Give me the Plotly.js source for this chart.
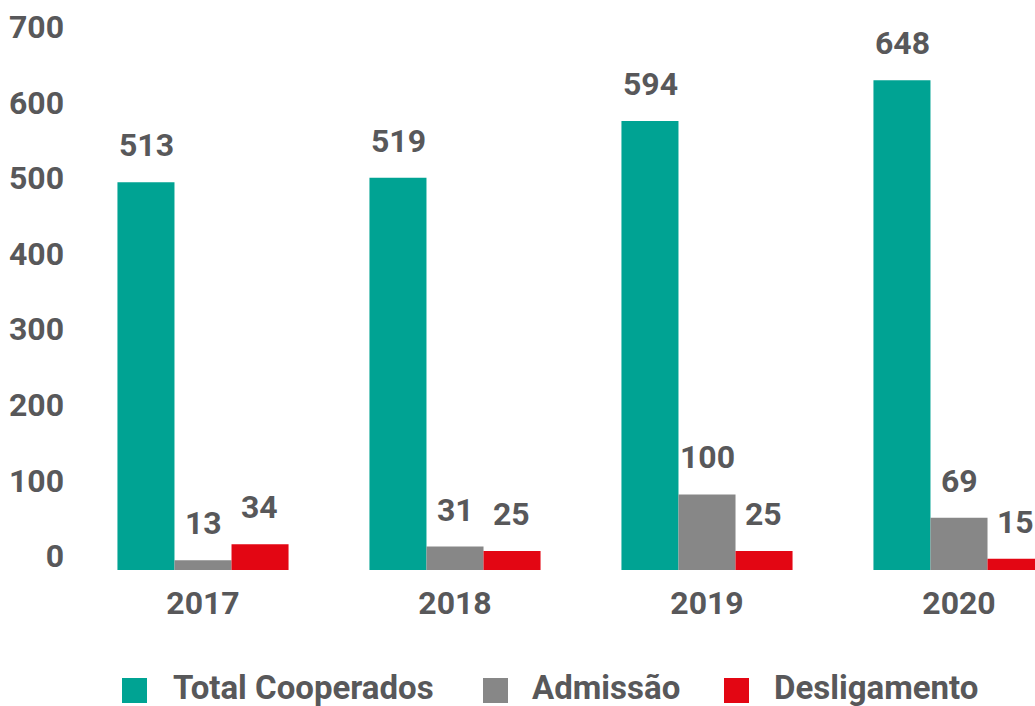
<!DOCTYPE html>
<html>
<head>
<meta charset="utf-8">
<script src="https://cdn.plot.ly/plotly-3.0.1.min.js"></script>
<style>html,body{margin:0;padding:0;background:#fff;overflow:hidden;}#chart{width:1035px;height:706px;}</style>
</head>
<body>
<div id="chart"></div>
<script>
// ---- data ----
const years = ['2017', '2018', '2019', '2020'];
const totalCooperados = [513, 519, 594, 648];
const admissao = [13, 31, 100, 69];
const desligamento = [34, 25, 25, 15];
const seriesNames = ['Total Cooperados', 'Admissão', 'Desligamento'];
const yTickVals = [0, 100, 200, 300, 400, 500, 600, 700];
const yTickText = ['0', '100', '200', '300', '400', '500', '600', '700'];

// ---- style ----
const colors = ['#00a393', '#878787', '#e30613'];
const textColor = '#58585a';
const FONT = 'Roboto, "DejaVu Sans", sans-serif';
const W = 1035, H = 706;
const M = {l: 77, r: 0, t: 41, b: 136};
const plotW = W - M.l - M.r, plotH = H - M.t - M.b;
const barPx = 56.9;

const seriesValues = [totalCooperados, admissao, desligamento];

const traces = seriesValues.map((vals, i) => ({
  type: 'bar',
  name: seriesNames[i],
  x: years,
  y: vals,
  marker: {color: colors[i], line: {width: 0}},
  showlegend: false,
  hoverinfo: 'x+y+name'
}));

const annotations = [];
seriesValues.forEach((vals, i) => {
  vals.forEach((v, j) => {
    annotations.push({
      x: j, y: v, xref: 'x', yref: 'y',
      text: String(v), showarrow: false,
      xanchor: 'center', yanchor: 'bottom',
      xshift: (i - 1) * barPx, yshift: 16,
      font: {family: FONT, size: 32, color: textColor, weight: 700}
    });
  });
});

// manual legend (large square swatches)
const px2x = px => (px - M.l) / plotW;
const px2y = py => (H - M.b - py) / plotH;
const legendSquares = [122, 483, 724];
const legendTexts = [171, 530, 772];
const shapes = [];
seriesNames.forEach((n, i) => {
  shapes.push({
    type: 'rect', xref: 'paper', yref: 'paper',
    x0: px2x(legendSquares[i]), x1: px2x(legendSquares[i] + 25),
    y0: px2y(703), y1: px2y(678),
    fillcolor: colors[i], line: {width: 0}
  });
  annotations.push({
    xref: 'paper', yref: 'paper',
    x: px2x(legendTexts[i]), y: px2y(687),
    xanchor: 'left', yanchor: 'middle',
    text: n, showarrow: false,
    font: {family: FONT, size: 33, color: textColor, weight: 700}
  });
});

const layout = {
  width: W, height: H,
  margin: M,
  paper_bgcolor: '#ffffff', plot_bgcolor: '#ffffff',
  barmode: 'group', bargap: 0.321, bargroupgap: 0,
  showlegend: false,
  font: {family: FONT, color: textColor},
  xaxis: {
    type: 'category', range: [-0.5, -0.5 + plotW / 252],
    showline: false, showgrid: false, zeroline: false, ticks: '',
    tickfont: {family: FONT, size: 32, color: textColor, weight: 700},
    ticklabelstandoff: 11, fixedrange: true
  },
  yaxis: {
    range: [0, 700], tickvals: yTickVals, ticktext: yTickText,
    showline: false, showgrid: false, zeroline: false, ticks: '',
    tickfont: {family: FONT, size: 32, color: textColor, weight: 700},
    ticklabelshift: -14, ticklabelstandoff: 12, fixedrange: true
  },
  annotations: annotations,
  shapes: shapes
};

Plotly.newPlot('chart', traces, layout, {displayModeBar: false, staticPlot: true});
</script>
</body>
</html>
